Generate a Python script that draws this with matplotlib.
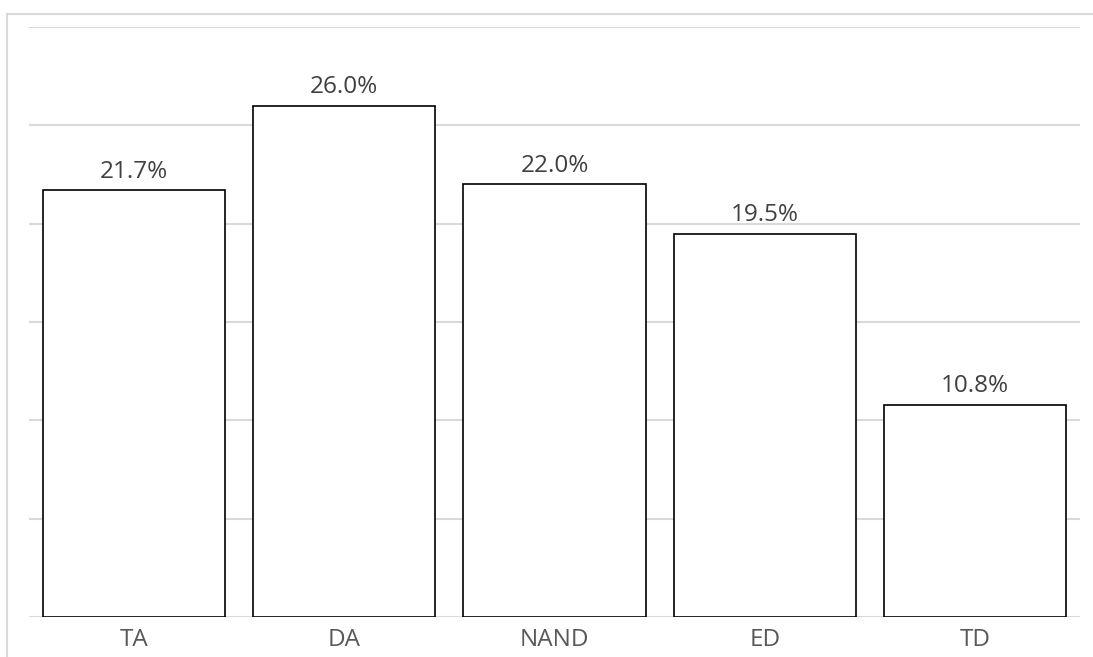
import matplotlib
matplotlib.use("Agg")
import matplotlib.pyplot as plt
from matplotlib.patches import Rectangle

categories = ["TA", "DA", "NAND", "ED", "TD"]
values = [21.7, 26.0, 22.0, 19.5, 10.8]
grid_ticks = [0, 5, 10, 15, 20, 25, 30]

W, H = 1093, 657
fig = plt.figure(figsize=(W / 100, H / 100), dpi=100)
plt.rcParams['font.family'] = ['Open Sans', 'DejaVu Sans']

# outer chart frame (cut off at right and bottom)
fig.patches.append(Rectangle((7 / W, -0.1), 1.2, 1 - 14 / H + 0.1, transform=fig.transFigure,
                             fill=False, edgecolor="#d9d9d9", linewidth=1.5))

ax = fig.add_axes([29 / W, (H - 617) / H, (1080 - 29) / W, (617 - 27) / H])
x = range(len(categories))
bars = ax.bar(x, values, width=0.867, color="white", edgecolor="black", linewidth=1.2, zorder=3)

for xi, v in zip(x, values):
    ax.annotate("%.1f%%" % v, (xi, v), xytext=(0, 9), textcoords="offset points",
                ha="center", va="baseline", fontsize=17.5, color="#404040")

ax.set_xlim(-0.5, len(categories) - 0.5)
ax.set_ylim(0, 30)
ax.set_yticks(grid_ticks)
ax.yaxis.grid(True, color="#d9d9d9", linewidth=1.5)
ax.tick_params(axis="y", left=False, labelleft=False)
ax.set_xticks(list(x))
ax.set_xticklabels(categories, fontsize=17.5, color="#595959")
ax.tick_params(axis="x", length=0, pad=8)
for s in ax.spines.values():
    s.set_visible(False)

fig.savefig("out.png", dpi=100)
